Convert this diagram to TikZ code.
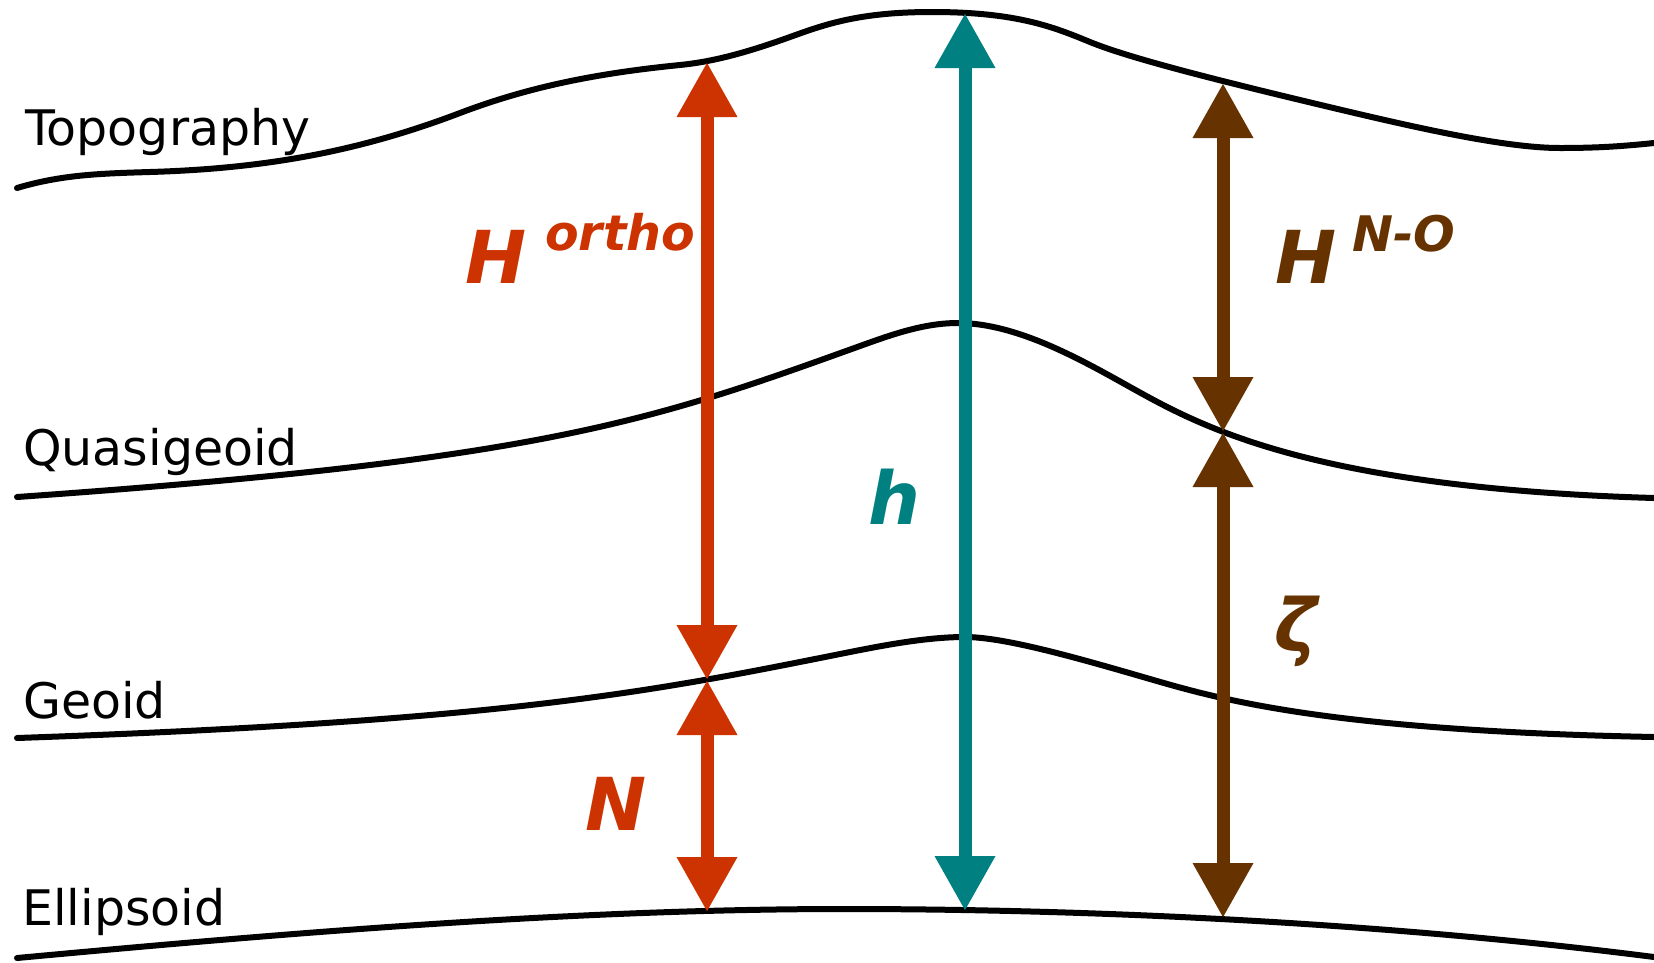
\documentclass[tikz,border=0pt]{standalone}
\usepackage{fontspec}
\setmainfont{DejaVu Sans}
\usetikzlibrary{arrows.meta}
\definecolor{cortho}{RGB}{204,51,0}
\definecolor{ch}{RGB}{0,128,128}
\definecolor{cno}{RGB}{102,51,0}
\begin{document}
\begin{tikzpicture}[x=1pt,y=-1pt,
  surf/.style={line width=6pt, line cap=round, line join=round},
  harrow/.style={line width=13pt, {Triangle[length=55pt,width=57pt]}-{Triangle[length=55pt,width=57pt]}},
  lbl/.style={anchor=base west, inner sep=0pt, font=\fontsize{49}{52}\selectfont},
  sym/.style={anchor=base west, inner sep=0pt, font=\fontsize{73}{80}\selectfont\bfseries\itshape},
  supx/.style={anchor=base west, inner sep=0pt, font=\fontsize{49}{52}\selectfont\bfseries\itshape}]
\useasboundingbox (0,0) rectangle (1654,962);
% Topography
\draw[surf] (17,188) .. controls (61.5,174.7) and (100,173.5) .. (150,172)
  .. controls (267.6,168.5) and (360.6,150.8) .. (460,113)
  .. controls (525.1,88.3) and (591.1,73.8) .. (680,65)
  .. controls (711.2,61.9) and (744.2,53.5) .. (790,37)
  .. controls (825,24.4) and (859,12) .. (932,12)
  .. controls (1017,12) and (1054,27.2) .. (1090,42)
  .. controls (1121.3,54.8) and (1184.3,72.2) .. (1300,100)
  .. controls (1400,124) and (1500,148) .. (1560,148)
  .. controls (1600,148) and (1625,146) .. (1654,143);
% Quasigeoid
\draw[surf] (17,497) .. controls (543,460) and (650,421.6) .. (860,346)
  .. controls (892,334.5) and (924,323) .. (958,323)
  .. controls (1016,323) and (1080,359) .. (1130,387)
  .. controls (1200,426) and (1310,487.7) .. (1654,498);
% Geoid
\draw[surf] (17,738) .. controls (505,721) and (650,692) .. (840,654)
  .. controls (880,646) and (925,637) .. (965,637)
  .. controls (1005,637) and (1080,658.7) .. (1150,679)
  .. controls (1220,699.3) and (1327.5,730.5) .. (1654,737);
% Ellipsoid
\draw[surf] (17,958) .. controls (287,933) and (574,909) .. (844,909)
  .. controls (1114,909) and (1404,925) .. (1654,957);
% surface labels
\node[lbl] (ltopo) at (25,145) {Topography};
\node[lbl] (lquasi) at (23,465) {Quasigeoid};
\node[lbl] (lgeoid) at (23,718) {Geoid};
\node[lbl] (lellip) at (22,925) {Ellipsoid};
% arrow end points
\coordinate (t1) at (707,62);
\coordinate (g1) at (707,680);
\coordinate (e1) at (707,912);
\coordinate (t2) at (965,13);
\coordinate (e2) at (965,911);
\coordinate (t3) at (1223,83);
\coordinate (q3) at (1223,432);
\coordinate (e3) at (1223,918);
% arrows
\draw[harrow, cortho] (g1) -- (t1);
\draw[harrow, cortho] (g1) -- (e1);
\draw[harrow, ch] (e2) -- (t2);
\draw[harrow, cno] (q3) -- (t3);
\draw[harrow, cno] (q3) -- (e3);
% labels
\node[sym, cortho] (Hortho) at (465,283) {H};
\node[supx, cortho] (sortho) at (545,250) {ortho};
\node[sym, cortho] (Nlab) at (585,830) {N};
\node[sym, ch] (hlab) at (868,524) {h};
\node[sym, cno] (Hno) at (1275,283) {H};
\node[supx, cno] (sno) at (1352,251) {N-O};
\node[sym, cno] (zlab) at (1274,651) {ζ};
\end{tikzpicture}
\end{document}
